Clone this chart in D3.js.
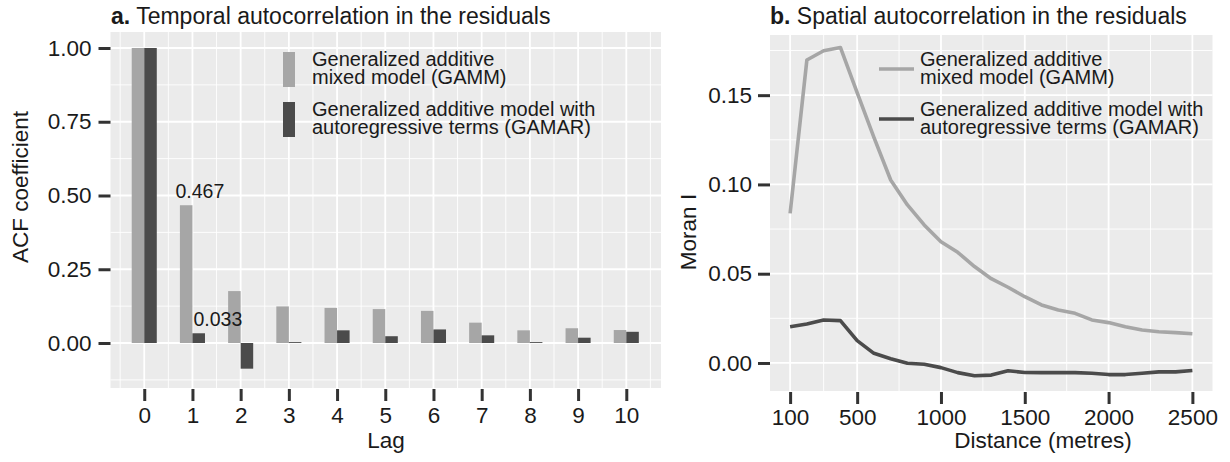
<!DOCTYPE html>
<html>
<head>
<meta charset="utf-8">
<script src="https://cdn.jsdelivr.net/npm/d3@7"></script>
<style>
    body { margin: 0; background: #fff; }
    text { font-family: "Liberation Sans", Arial, Helvetica, sans-serif; fill: #1a1a1a; }
</style>
</head>
<body>
<svg id="chart" width="1230" height="462"></svg>
<script>
// ---- data ----
var lags = [0, 1, 2, 3, 4, 5, 6, 7, 8, 9, 10];
var acfGamm = [1, 0.467, 0.176, 0.124, 0.119, 0.115, 0.109, 0.069, 0.043, 0.050, 0.044];
var acfGamar = [1, 0.033, -0.087, 0.003, 0.043, 0.023, 0.046, 0.026, 0.003, 0.018, 0.038];

var distances = [100, 200, 300, 400, 500, 600, 700, 800, 900, 1000, 1100, 1200, 1300,
    1400, 1500, 1600, 1700, 1800, 1900, 2000, 2100, 2200, 2300, 2400, 2500];
var moranGamm = [0.0838, 0.1697, 0.1749, 0.1767, 0.1514, 0.1264, 0.1025, 0.0885, 0.0773,
    0.0679, 0.0620, 0.0540, 0.0472, 0.0424, 0.0371, 0.0325, 0.0297, 0.0278, 0.0241,
    0.0226, 0.0203, 0.0185, 0.0175, 0.0170, 0.0164];
var moranGamar = [0.0203, 0.0218, 0.0241, 0.0237, 0.0125, 0.0054, 0.0024, -0.0002, -0.0007,
    -0.0026, -0.0054, -0.0072, -0.0068, -0.0044, -0.0053, -0.0054, -0.0054, -0.0054,
    -0.0058, -0.0065, -0.0065, -0.0058, -0.0050, -0.0050, -0.0042];

var acfTicks = [0, 0.25, 0.5, 0.75, 1];
var acfMinor = [-0.125, 0.125, 0.375, 0.625, 0.875];
var lagMinor = [-0.5, 0.5, 1.5, 2.5, 3.5, 4.5, 5.5, 6.5, 7.5, 8.5, 9.5, 10.5];
var moranTicks = [0, 0.05, 0.10, 0.15];
var moranMinor = [0.025, 0.075, 0.125, 0.175];
var distTicks = [100, 500, 1000, 1500, 2000, 2500];
var distMinor = [300, 750, 1250, 1750, 2250];

var legendLines = [["Generalized additive", "mixed model (GAMM)"],
    ["Generalized additive model with", "autoregressive terms (GAMAR)"]];
var annotations = [{lag: 1, value: 0.467, label: "0.467", dx: -17},
    {lag: 1, value: 0.033, label: "0.033", dx: 1}];

var colLight = "#a6a6a6",
    colDark = "#4b4b4b",
    colPanel = "#ebebeb",
    colTick = "#333333";

var svg = d3.select("#chart");

// grey panel + white grid, ggplot style
function drawPanel(x, y, xMajor, xMinor, yMajor, yMinor) {
    var g = svg.append("g");
    var x0 = x.range()[0], x1 = x.range()[1], y0 = y.range()[0], y1 = y.range()[1];
    g.append("rect")
        .attr("x", x0).attr("y", y1)
        .attr("width", x1 - x0).attr("height", y0 - y1)
        .attr("fill", colPanel);
    g.selectAll(".vmin").data(xMinor).enter().append("line")
        .attr("x1", x).attr("x2", x).attr("y1", y0).attr("y2", y1)
        .attr("stroke", "#fff").attr("stroke-width", 0.9);
    g.selectAll(".hmin").data(yMinor).enter().append("line")
        .attr("y1", y).attr("y2", y).attr("x1", x0).attr("x2", x1)
        .attr("stroke", "#fff").attr("stroke-width", 0.9);
    g.selectAll(".vmaj").data(xMajor).enter().append("line")
        .attr("x1", x).attr("x2", x).attr("y1", y0).attr("y2", y1)
        .attr("stroke", "#fff").attr("stroke-width", 1.8);
    g.selectAll(".hmaj").data(yMajor).enter().append("line")
        .attr("y1", y).attr("y2", y).attr("x1", x0).attr("x2", x1)
        .attr("stroke", "#fff").attr("stroke-width", 1.8);
    return g;
}

function styleAxis(g) {
    g.select(".domain").remove();
    g.attr("font-family", null).attr("font-size", null);
    g.selectAll(".tick line").attr("stroke", colTick).attr("stroke-width", 3);
    g.selectAll(".tick text").style("font-size", "22.5px").attr("fill", "#1a1a1a");
}

// two-line legend label as one text element
function legendText(g, x, y, lines) {
    var t = g.append("text").attr("x", x).attr("y", y).style("font-size", "20px");
    lines.forEach(function(s, j) {
        t.append("tspan").attr("x", x).attr("dy", j === 0 ? 0 : 18).text(s);
    });
}

// ================= panel a =================
var xa = d3.scaleLinear().domain([-0.7, 10.72]).range([110.5, 661]);
var ya = d3.scaleLinear().domain([-0.1525, 1.0542]).range([388, 32]);
var barW = 0.26; // in lag units

drawPanel(xa, ya, lags, lagMinor, acfTicks, acfMinor);

svg.append("g").selectAll("rect").data(lags).enter().append("rect")
    .attr("x", function(d) { return xa(d - barW); })
    .attr("width", function(d) { return xa(d) - xa(d - barW); })
    .attr("y", function(d, i) { return ya(Math.max(0, acfGamm[i])); })
    .attr("height", function(d, i) { return Math.abs(ya(acfGamm[i]) - ya(0)); })
    .attr("fill", colLight);

svg.append("g").selectAll("rect").data(lags).enter().append("rect")
    .attr("x", function(d) { return xa(d); })
    .attr("width", function(d) { return xa(d + barW) - xa(d); })
    .attr("y", function(d, i) { return ya(Math.max(0, acfGamar[i])); })
    .attr("height", function(d, i) { return Math.abs(ya(acfGamar[i]) - ya(0)); })
    .attr("fill", colDark);

svg.append("g").selectAll("text").data(annotations).enter().append("text")
    .attr("x", function(d) { return xa(d.lag) + d.dx; })
    .attr("y", function(d) { return ya(d.value) - 7; })
    .style("font-size", "19.5px")
    .text(function(d) { return d.label; });

svg.append("g").attr("transform", "translate(110.5,0)")
    .call(d3.axisLeft(ya).tickValues(acfTicks).tickFormat(d3.format(".2f")).tickSize(12).tickPadding(7))
    .call(styleAxis);

svg.append("g").attr("transform", "translate(0,389)")
    .call(d3.axisBottom(xa).tickValues(lags).tickFormat(d3.format("d")).tickSize(12).tickPadding(6))
    .call(styleAxis);

// legend a
var legA = svg.append("g");
legendLines.forEach(function(lines, i) {
    legA.append("rect")
        .attr("x", 283).attr("y", 52 + i * 50)
        .attr("width", 12).attr("height", 35)
        .attr("fill", i === 0 ? colLight : colDark);
    legendText(legA, 312, 66 + i * 50, lines);
});

svg.append("text").attr("x", 111).attr("y", 24).style("font-size", "23px")
    .call(function(t) {
        t.append("tspan").attr("font-weight", "bold").text("a.");
        t.append("tspan").text(" Temporal autocorrelation in the residuals");
    });
svg.append("text").attr("x", 386).attr("y", 448).attr("text-anchor", "middle")
    .style("font-size", "22.5px").text("Lag");
svg.append("text").attr("transform", "translate(28,187) rotate(-90)").attr("text-anchor", "middle")
    .style("font-size", "22.5px").text("ACF coefficient");

// ================= panel b =================
var xb = d3.scaleLinear().domain([-20, 2620]).range([770, 1212.5]);
var yb = d3.scaleLinear().domain([-0.0157, 0.1837]).range([391, 35]);

drawPanel(xb, yb, distTicks, distMinor, moranTicks, moranMinor);

var line = d3.line()
    .x(function(d, i) { return xb(distances[i]); })
    .y(function(d) { return yb(d); });

svg.append("path").datum(moranGamm).attr("d", line)
    .attr("fill", "none").attr("stroke", colLight).attr("stroke-width", 3.6)
    .attr("stroke-linejoin", "round");
svg.append("path").datum(moranGamar).attr("d", line)
    .attr("fill", "none").attr("stroke", colDark).attr("stroke-width", 3.6)
    .attr("stroke-linejoin", "round");

svg.append("g").attr("transform", "translate(770,0)")
    .call(d3.axisLeft(yb).tickValues(moranTicks).tickFormat(d3.format(".2f")).tickSize(12).tickPadding(6))
    .call(styleAxis);

svg.append("g").attr("transform", "translate(0,392)")
    .call(d3.axisBottom(xb).tickValues(distTicks).tickFormat(d3.format("d")).tickSize(12).tickPadding(5))
    .call(styleAxis);

// legend b
var legB = svg.append("g");
legendLines.forEach(function(lines, i) {
    legB.append("line")
        .attr("x1", 879).attr("x2", 914)
        .attr("y1", 69 + i * 50).attr("y2", 69 + i * 50)
        .attr("stroke", i === 0 ? colLight : colDark).attr("stroke-width", 3.6);
    legendText(legB, 920, 66 + i * 50, lines);
});

svg.append("text").attr("x", 770).attr("y", 24).style("font-size", "23px")
    .call(function(t) {
        t.append("tspan").attr("font-weight", "bold").text("b.");
        t.append("tspan").text(" Spatial autocorrelation in the residuals");
    });
svg.append("text").attr("x", 1043).attr("y", 448).attr("text-anchor", "middle")
    .style("font-size", "22.5px").text("Distance (metres)");
svg.append("text").attr("transform", "translate(696,232) rotate(-90)").attr("text-anchor", "middle")
    .style("font-size", "22.5px").text("Moran I");
</script>
</body>
</html>
